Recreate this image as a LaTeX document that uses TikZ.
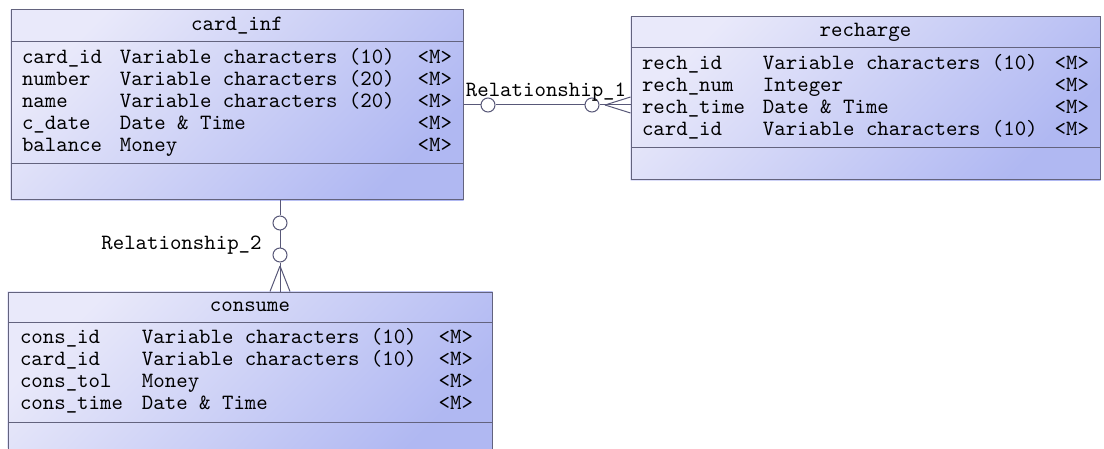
\documentclass[tikz,border=0pt]{standalone}
\usetikzlibrary{backgrounds,calc}
\definecolor{eline}{HTML}{63637E}
\definecolor{rline}{HTML}{585878}
\definecolor{efilltop}{HTML}{E9E9FA}
\definecolor{efillbot}{HTML}{B0B8F2}
\newlength\namew
\newlength\rpad
\newcommand{\ettfont}{\fontsize{10.9}{11}\selectfont\ttfamily}
% one attribute line: name, type, <M> at the right
\newcommand{\erow}[2]{\makebox[\linewidth][s]{\spaceskip=0.525em\relax\xspaceskip=0.525em\relax
  \strut\makebox[\namew][l]{#1}#2\hfill<M>\hspace*{\rpad}}}
\tikzset{
  ent/.style={draw=eline, line width=0.5pt, inner sep=0pt, font=\ettfont},
  eattr/.style 2 args={ent, align=left, inner xsep=5.5pt, text width=#1,
    execute at begin node={\setlength\namew{#2}\setlength\rpad{0pt}}},
  eshade/.style={top color=efilltop, bottom color=efillbot, shading angle=45},
  optc/.style={circle, draw=rline, fill=white, line width=0.5pt, minimum size=7pt, inner sep=0pt},
  rel/.style={draw=rline, line width=0.5pt},
  lbl/.style={inner sep=0pt, font=\ettfont}
}
\begin{document}
\begin{tikzpicture}[x=0.5pt, y=-0.5pt]
\useasboundingbox (0,0) rectangle (1104,449);
% card_inf
\node[ent, minimum width=226pt, minimum height=16pt] (cardinf) at (237,26) {card\_inf};
\node[eattr={215pt}{49pt}, minimum height=61pt] (cardinfattr) at (237,103) {\erow{card\_id}{Variable characters (10)}\\
\erow{number}{Variable characters (20)}\\
\erow{name}{Variable characters (20)}\\
\erow{c\_date}{Date \& Time}\\
\erow{balance}{Money}};
\node[ent, minimum width=226pt, minimum height=18pt] (cardinffoot) at (237,182) {};
% recharge
\node[ent, minimum width=234.5pt, minimum height=15.5pt] (recharge) at (865.5,32.5) {recharge};
\node[eattr={223.5pt}{60.5pt}, minimum height=50pt] (rechargeattr) at (865.5,98) {\erow{rech\_id}{Variable characters (10)}\\
\erow{rech\_num}{Integer}\\
\erow{rech\_time}{Date \& Time}\\
\erow{card\_id}{Variable characters (10)}};
\node[ent, minimum width=234.5pt, minimum height=16pt] (rechargefoot) at (865.5,164) {};
% consume
\node[ent, minimum width=242pt, minimum height=15pt] (consume) at (250,307) {consume};
\node[eattr={230pt}{61pt}, inner xsep=6pt, minimum height=50pt,
  execute at begin node={\setlength\rpad{3.5pt}}] (consumeattr) at (250,372) {\erow{cons\_id}{Variable characters (10)}\\
\erow{card\_id}{Variable characters (10)}\\
\erow{cons\_tol}{Money}\\
\erow{cons\_time}{Date \& Time}};
\node[ent, minimum width=242pt, minimum height=19pt] (consumefoot) at (250,441) {};
\begin{scope}[on background layer]
\shade[eshade] (cardinf.north west) rectangle (cardinffoot.south east);
\shade[eshade] (recharge.north west) rectangle (rechargefoot.south east);
\shade[eshade] (consume.north west) rectangle (consumefoot.south east);
\end{scope}
% Relationship_1
\node[optc] (r1a) at (488,105) {};
\node[optc] (r1b) at (592,105) {};
\coordinate (r1fork) at (605,105);
\draw[rel] (cardinfattr.east |- r1a) -- (r1a.west);
\draw[rel] (r1a.east) -- (r1b.west);
\draw[rel] (r1b.east) -- (rechargeattr.west |- r1b);
\draw[rel] (r1fork) -- ($(rechargeattr.west |- r1fork)+(0,-8)$);
\draw[rel] (r1fork) -- ($(rechargeattr.west |- r1fork)+(0,8)$);
\node[lbl] (r1label) at (546,92) {Relationship\_1};
% Relationship_2
\node[optc] (r2a) at (280,223) {};
\node[optc] (r2b) at (280,255) {};
\coordinate (r2fork) at (280,266);
\draw[rel] (cardinffoot.south -| r2a) -- (r2a.north);
\draw[rel] (r2a.south) -- (r2b.north);
\draw[rel] (r2b.south) -- (consume.north -| r2b);
\draw[rel] (r2fork) -- ($(consume.north -| r2fork)+(-10,0)$);
\draw[rel] (r2fork) -- ($(consume.north -| r2fork)+(10,0)$);
\node[lbl, anchor=east] (r2label) at (262,245) {Relationship\_2};
\end{tikzpicture}
\end{document}
